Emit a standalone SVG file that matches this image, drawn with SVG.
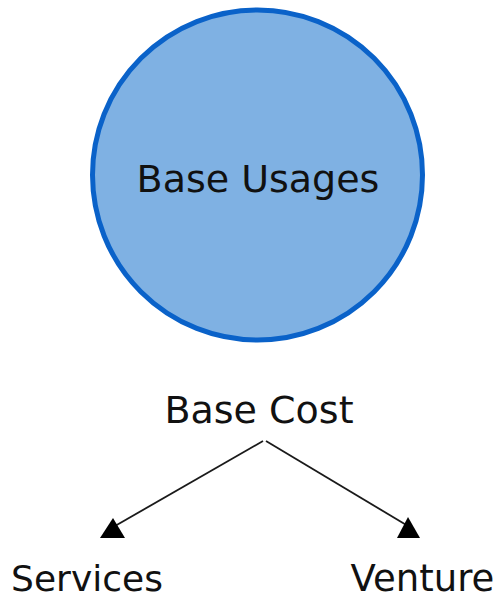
<svg xmlns="http://www.w3.org/2000/svg" width="497" height="595" viewBox="0 0 497 595">
<style>
text{font-family:"DejaVu Sans",Verdana,sans-serif;font-size:36px;fill:#111;text-anchor:middle}
.big{font-size:38px}
.edge{stroke:#1a1a1a;stroke-width:1.8;fill:none}
.head{fill:#000}
</style>
<rect width="497" height="595" fill="#fff"/>
<g id="node-base-usages">
<circle cx="257.5" cy="175" r="165" fill="#7fb1e3" stroke="#0a62c9" stroke-width="5"/>
<text class="big" x="258" y="192">Base Usages</text>
</g>
<g id="node-base-cost"><text class="big" x="259" y="423">Base Cost</text></g>
<g id="node-services"><text x="87" y="591">Services</text></g>
<g id="node-venture"><text x="422.5" y="591" style="font-size:37px">Venture</text></g>
<g id="connectors">
<line class="edge" x1="263" y1="441" x2="115" y2="526"/>
<polygon class="head" points="100,538 125,538 113,518"/>
<line class="edge" x1="266" y1="441" x2="408" y2="526"/>
<polygon class="head" points="397,538 420,538 408,517"/>
</g>
</svg>
